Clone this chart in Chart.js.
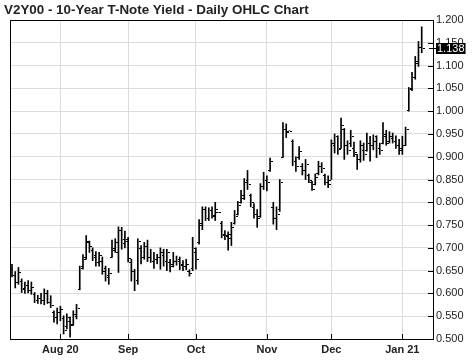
<!DOCTYPE html>
<html><head><meta charset="utf-8">
<script src="https://cdn.jsdelivr.net/npm/chart.js@4/dist/chart.umd.min.js"></script>
<style>html,body{margin:0;padding:0;background:#fff}#wrap{width:474px;height:361px}</style>
</head><body><div id="wrap"><canvas id="c" width="474" height="361"></canvas></div>
<script>
const title = 'V2Y00 - 10-Year T-Note Yield - Daily OHLC Chart';
const dates = [
'2020-07-13','2020-07-14','2020-07-15','2020-07-16','2020-07-17','2020-07-20','2020-07-21','2020-07-22','2020-07-23','2020-07-24','2020-07-27','2020-07-28','2020-07-29','2020-07-30','2020-07-31',
'2020-08-03','2020-08-04','2020-08-05','2020-08-06','2020-08-07','2020-08-10','2020-08-11','2020-08-12','2020-08-13','2020-08-14','2020-08-17','2020-08-18','2020-08-19','2020-08-20','2020-08-21','2020-08-24','2020-08-25','2020-08-26','2020-08-27','2020-08-28','2020-08-31',
'2020-09-01','2020-09-02','2020-09-03','2020-09-04','2020-09-08','2020-09-09','2020-09-10','2020-09-11','2020-09-14','2020-09-15','2020-09-16','2020-09-17','2020-09-18','2020-09-21','2020-09-22','2020-09-23','2020-09-24','2020-09-25','2020-09-28','2020-09-29','2020-09-30',
'2020-10-01','2020-10-02','2020-10-05','2020-10-06','2020-10-07','2020-10-08','2020-10-09','2020-10-12','2020-10-13','2020-10-14','2020-10-15','2020-10-16','2020-10-19','2020-10-20','2020-10-21','2020-10-22','2020-10-23','2020-10-26','2020-10-27','2020-10-28','2020-10-29','2020-10-30',
'2020-11-02','2020-11-03','2020-11-04','2020-11-05','2020-11-06','2020-11-09','2020-11-10','2020-11-11','2020-11-12','2020-11-13','2020-11-16','2020-11-17','2020-11-18','2020-11-19','2020-11-20','2020-11-23','2020-11-24','2020-11-25','2020-11-27','2020-11-30',
'2020-12-01','2020-12-02','2020-12-03','2020-12-04','2020-12-07','2020-12-08','2020-12-09','2020-12-10','2020-12-11','2020-12-14','2020-12-15','2020-12-16','2020-12-17','2020-12-18','2020-12-21','2020-12-22','2020-12-23','2020-12-24','2020-12-28','2020-12-29','2020-12-30','2020-12-31',
'2021-01-04','2021-01-05','2021-01-06','2021-01-07','2021-01-08','2021-01-11','2021-01-12'];
const open = [
.655,.640,.625,.628,.612,.618,.608,.598,.585,.590,.585,.600,.582,.560,.548,
.560,.545,.528,.540,.532,.550,.610,.660,.680,.712,.695,.685,.670,.672,.655,.635,.680,.695,.690,.740,.710,
.720,.670,.650,.630,.700,.680,.705,.680,.672,.675,.680,.685,.672,.670,.665,.672,.672,.662,.660,.650,.655,
.690,.712,.750,.785,.765,.782,.770,.778,.755,.730,.725,.722,.755,.775,.800,.810,.850,.817,.790,.775,.770,.835,
.850,.870,.790,.765,.785,.900,.960,.957,.935,.890,.900,.880,.870,.860,.845,.840,.865,.880,.860,.845,
.850,.925,.945,.920,.960,.925,.930,.920,.905,.895,.915,.915,.930,.925,.945,.920,.930,.945,.935,.940,.935,.925,
.920,.925,1.003,1.050,1.075,1.110,1.140];
const high = [
.664,.648,.657,.632,.625,.628,.625,.602,.596,.600,.610,.607,.595,.562,.568,
.572,.551,.555,.548,.562,.576,.660,.685,.727,.715,.700,.692,.690,.680,.660,.655,.717,.720,.746,.745,.737,
.723,.675,.653,.720,.705,.712,.717,.697,.690,.686,.700,.697,.697,.675,.690,.682,.680,.672,.675,.652,.723,
.700,.762,.790,.790,.788,.790,.800,.778,.758,.738,.735,.756,.782,.802,.826,.852,.870,.818,.797,.784,.841,.866,
.858,.897,.800,.790,.850,.975,.972,.957,.937,.900,.922,.885,.894,.862,.846,.862,.890,.887,.862,.858,
.937,.950,.946,.985,.962,.935,.958,.932,.905,.935,.930,.952,.945,.948,.946,.930,.975,.958,.955,.952,.946,.938,
.945,.965,1.052,1.085,1.120,1.153,1.185];
const low = [
.636,.612,.620,.602,.600,.601,.598,.580,.578,.577,.575,.578,.569,.537,.533,
.540,.511,.522,.504,.530,.544,.608,.653,.675,.690,.672,.660,.660,.642,.627,.620,.679,.690,.646,.697,.700,
.669,.627,.606,.620,.665,.675,.670,.668,.655,.665,.653,.660,.650,.647,.658,.662,.652,.650,.652,.638,.650,
.653,.708,.740,.760,.760,.765,.760,.778,.722,.718,.695,.705,.752,.772,.798,.806,.828,.790,.765,.745,.767,.828,
.825,.868,.752,.740,.780,.898,.942,.957,.880,.868,.894,.860,.850,.843,.826,.838,.860,.865,.838,.832,
.850,.908,.905,.918,.894,.905,.922,.900,.872,.888,.892,.912,.890,.915,.898,.905,.928,.925,.930,.930,.918,.905,
.905,.924,1.000,1.045,1.070,1.098,1.128];
const close = [
.640,.625,.648,.610,.618,.608,.615,.585,.590,.585,.600,.582,.575,.548,.560,
.565,.520,.548,.530,.555,.568,.655,.675,.715,.705,.680,.670,.685,.650,.640,.645,.700,.712,.740,.720,.715,
.678,.650,.630,.715,.680,.705,.680,.672,.675,.680,.690,.672,.692,.660,.672,.675,.665,.660,.665,.645,.700,
.675,.755,.785,.765,.782,.772,.785,.778,.728,.728,.730,.745,.770,.795,.815,.845,.840,.800,.775,.765,.835,.850,
.845,.890,.765,.775,.845,.960,.955,.957,.890,.880,.912,.870,.885,.850,.830,.855,.880,.875,.845,.840,
.930,.945,.918,.970,.925,.915,.945,.910,.895,.925,.905,.930,.925,.935,.920,.915,.950,.930,.945,.935,.925,.915,
.925,.960,1.048,1.075,1.105,1.140,1.138];
const tickDates = ['2020-08-03','2020-09-01','2020-10-01','2020-11-02','2020-12-01','2021-01-04'];
const tickLabels = ['Aug 20','Sep','Oct','Nov','Dec','Jan 21'];
const yTickValues = [0.5,0.55,0.6,0.65,0.7,0.75,0.8,0.85,0.9,0.95,1.0,1.05,1.1,1.15,1.2];
const lastLabel = '1.138';

const tickIdx = tickDates.map(d => dates.indexOf(d));
const FONT = "'Liberation Sans', Arial, sans-serif";

const ohlcPlugin = {
  id: 'ohlc',
  beforeDraw(chart) {
    const c = chart.ctx;
    c.save(); c.fillStyle = '#fff'; c.fillRect(0, 0, chart.width, chart.height); c.restore();
  },
  afterDatasetsDraw(chart) {
    const c = chart.ctx, xs = chart.scales.x, ys = chart.scales.y, a = chart.chartArea;
    c.save();
    c.beginPath(); c.rect(a.left, a.top, a.right - a.left, a.bottom - a.top); c.clip();
    c.strokeStyle = '#000'; c.lineWidth = 1;
    c.beginPath();
    for (let i = 0; i < dates.length; i++) {
      const x = Math.round(xs.getPixelForValue(i));
      const yo = Math.round(ys.getPixelForValue(open[i])) + 0.5;
      const yc = Math.round(ys.getPixelForValue(close[i])) + 0.5;
      c.moveTo(x - 2, yo); c.lineTo(x, yo);
      c.moveTo(x + 1, yc); c.lineTo(x + 3, yc);
    }
    c.stroke();
    c.restore();
  },
  afterDraw(chart) {
    const c = chart.ctx, xs = chart.scales.x, ys = chart.scales.y, a = chart.chartArea;
    c.save();
    c.strokeStyle = '#000'; c.lineWidth = 1;
    c.beginPath();
    yTickValues.forEach(v => {
      const y = Math.round(ys.getPixelForValue(v)) + 0.5;
      c.moveTo(a.right - 5, y); c.lineTo(a.right, y);
    });
    tickIdx.forEach(v => {
      const x = Math.round(xs.getPixelForValue(v)) + 0.5;
      c.moveTo(x, a.bottom - 5); c.lineTo(x, a.bottom);
    });
    c.stroke();
    c.strokeRect(Math.round(a.left) + 0.5, Math.round(a.top) + 0.5, Math.round(a.right - a.left), Math.round(a.bottom - a.top));
    const yl = ys.getPixelForValue(close[close.length - 1]);
    c.beginPath(); c.moveTo(a.right - 4, Math.round(yl) + 0.5); c.lineTo(a.right + 3, Math.round(yl) + 0.5); c.stroke();
    c.font = '11px ' + FONT;
    const w = c.measureText(lastLabel).width;
    c.fillStyle = '#000';
    c.fillRect(a.right + 3, Math.round(yl) - 5, w + 2, 11);
    c.fillStyle = '#fff'; c.textBaseline = 'middle'; c.textAlign = 'left';
    c.fillText(lastLabel, a.right + 4, Math.round(yl) + 0.5);
    c.fillStyle = '#222'; c.font = 'bold 13.4px ' + FONT; c.textBaseline = 'alphabetic';
    c.fillText(title, 4, 14);
    c.restore();
  }
};

new Chart(document.getElementById('c'), {
  type: 'bar',
  data: {
    datasets: [{
      data: dates.map((d, i) => ({ x: i, y: [low[i], high[i]] })),
      backgroundColor: '#000',
      borderWidth: 0,
      barThickness: 1,
      grouped: false
    }]
  },
  options: {
    responsive: false,
    animation: false,
    devicePixelRatio: 1,
    layout: { padding: { left: 10, top: 20, right: 0, bottom: 0 } },
    plugins: { legend: { display: false }, tooltip: { enabled: false }, title: { display: false } },
    scales: {
      x: {
        type: 'linear',
        offset: false,
        min: -0.62, max: 130.5,
        afterBuildTicks: s => { s.ticks = tickIdx.map(v => ({ value: v })); },
        afterFit: s => { s.height = 22; },
        ticks: {
          autoSkip: false, maxRotation: 0, padding: 4,
          color: '#222', font: { family: FONT, size: 11, weight: 'bold' },
          callback: v => tickLabels[tickIdx.indexOf(v)]
        },
        grid: { color: '#dcdcdc', drawTicks: false, offset: false },
        border: { color: '#000' }
      },
      y: {
        position: 'right',
        min: 0.5, max: 1.2,
        afterBuildTicks: s => { s.ticks = yTickValues.map(v => ({ value: v })); },
        afterFit: s => { s.width = 41; },
        ticks: {
          padding: 3, color: '#222', font: { family: FONT, size: 11 },
          callback: v => Number(v).toFixed(3)
        },
        grid: { color: '#dcdcdc', drawTicks: false },
        border: { color: '#000' }
      }
    }
  },
  plugins: [ohlcPlugin]
});
</script>
</body></html>
